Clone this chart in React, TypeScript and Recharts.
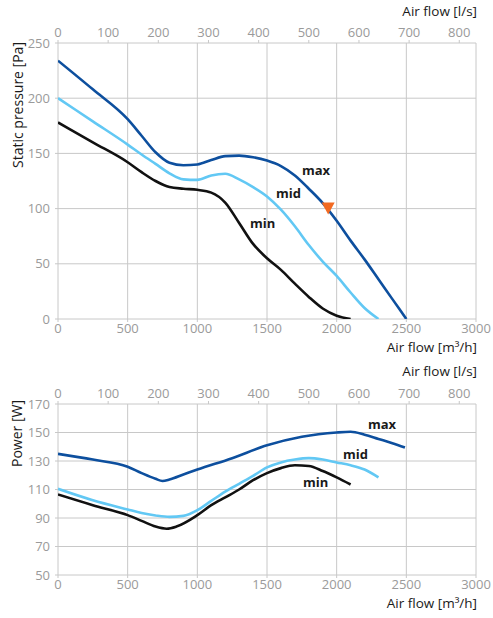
import {
  CartesianGrid,
  Line,
  LineChart,
  ReferenceDot,
  XAxis,
  YAxis,
} from "recharts";

// axis ticks
const flowTicks = [0, 500, 1000, 1500, 2000, 2500, 3000];
const litreTicks = [0, 100, 200, 300, 400, 500, 600, 700, 800];
const pressureTicks = [0, 50, 100, 150, 200, 250];
const powerTicks = [50, 70, 90, 110, 130, 150, 170];

// static pressure curves [m3/h] -> [Pa]
const maxPressureFlow = [0, 250, 500, 600, 700, 800, 900, 1000, 1100, 1200, 1300, 1400, 1500, 1600, 1700, 1800, 1900, 2000, 2100, 2200, 2300, 2400, 2500];
const maxPressure = [234, 208, 181, 166, 151, 141.5, 139.3, 140, 144, 147.5, 148, 146.5, 143.5, 138.5, 130, 118, 105, 89, 71, 54, 36, 18, 0];

const midPressureFlow = [0, 250, 500, 600, 700, 800, 900, 1000, 1100, 1200, 1300, 1400, 1500, 1600, 1700, 1800, 1900, 2000, 2100, 2200, 2300];
const midPressure = [200, 179, 158, 149, 140.5, 132, 126.5, 126, 130, 131.5, 126.5, 119.5, 111, 99, 84, 67, 52, 39, 24, 10, 0];

const minPressureFlow = [0, 250, 500, 600, 700, 800, 900, 1000, 1100, 1200, 1300, 1400, 1500, 1600, 1700, 1800, 1900, 2000, 2100];
const minPressure = [178, 160, 142, 133, 125, 119.5, 118, 117, 114.5, 105.5, 87, 68, 55, 44.5, 32, 20, 9.5, 3, 0];

// power curves [m3/h] -> [W]
const maxPowerFlow = [0, 250, 500, 600, 700, 750, 800, 900, 1000, 1250, 1500, 1750, 2000, 2100, 2200, 2300, 2400, 2490];
const maxPower = [135, 131, 126, 121.5, 117.5, 116, 117, 120.5, 124, 132, 141, 147, 150, 150.5, 148.5, 145.5, 142.5, 139.5];

const midPowerFlow = [0, 250, 500, 600, 700, 800, 900, 1000, 1100, 1200, 1300, 1400, 1500, 1600, 1700, 1800, 1900, 2000, 2100, 2200, 2300];
const midPower = [110.5, 102.5, 96, 93.5, 91.8, 90.8, 91.5, 95.5, 102, 108.5, 114, 119.5, 125.5, 129, 131, 132, 131, 129, 127, 124, 118.5];

const minPowerFlow = [0, 250, 500, 600, 700, 780, 850, 1000, 1100, 1200, 1300, 1400, 1500, 1600, 1700, 1800, 1900, 2000, 2100];
const minPower = [106.5, 99, 92, 88, 84, 82.5, 84, 92, 99, 104.5, 110, 116.5, 121.5, 125, 127, 126.5, 123, 118.5, 113.5];

// working point
const markerFlow = 1939;
const markerPressure = 100;

const toPoints = (q: number[], v: number[]) =>
  q.map((x, i) => ({ q: x, v: v[i] }));

// empty series so the secondary l/s axis gets drawn
const litrePoints = litreTicks.map((l) => ({ q: l, v: null }));

const FONT = "'Open Sans', 'Noto Sans', sans-serif";
const GRID = "#c8c8c8";
const TICK = { fill: "#9a9a9a", fontSize: 13, fontFamily: FONT };
const MAX = "#0d4f9e";
const MID = "#62c8f4";
const MIN = "#111111";

const text = (
  s: string,
  pos: React.CSSProperties,
  extra: React.CSSProperties = {}
) => (
  <div
    style={{
      position: "absolute",
      ...pos,
      fontFamily: FONT,
      fontSize: 13.5,
      color: "#1a1a1a",
      whiteSpace: "nowrap",
      lineHeight: 1,
      ...extra,
    }}
  >
    {s}
  </div>
);

const Triangle = (props: any) => {
  const { cx, cy } = props;
  return (
    <polygon
      points={`${cx - 6.5},${cy - 6} ${cx + 6.5},${cy - 6} ${cx},${cy + 6}`}
      fill="#f26a22"
    />
  );
};

export default function App() {
  const top = [
    { d: toPoints(maxPressureFlow, maxPressure), c: MAX },
    { d: toPoints(midPressureFlow, midPressure), c: MID },
    { d: toPoints(minPressureFlow, minPressure), c: MIN },
  ];
  const bottom = [
    { d: toPoints(maxPowerFlow, maxPower), c: MAX },
    { d: toPoints(midPowerFlow, midPower), c: MID },
    { d: toPoints(minPowerFlow, minPower), c: MIN },
  ];

  const axes = (yTicks: number[]) => [
    <XAxis
      key="m3"
      xAxisId="m3"
      dataKey="q"
      type="number"
      domain={[0, 3000]}
      ticks={flowTicks}
      interval={0}
      height={20}
      axisLine={false}
      tickLine={{ stroke: GRID }}
      tickSize={3}
      tickMargin={2}
      tick={TICK}
      allowDataOverflow
    />,
    <XAxis
      key="ls"
      xAxisId="ls"
      dataKey="q"
      orientation="top"
      type="number"
      domain={[0, 3000 / 3.6]}
      ticks={litreTicks}
      interval={0}
      height={30}
      axisLine={false}
      tickLine={{ stroke: GRID }}
      tickSize={3}
      tickMargin={3}
      tick={TICK}
      allowDataOverflow
    />,
    <YAxis
      key="y"
      yAxisId="y"
      type="number"
      domain={[yTicks[0], yTicks[yTicks.length - 1]]}
      ticks={yTicks}
      interval={0}
      width={50}
      axisLine={false}
      tickLine={{ stroke: GRID }}
      tickSize={3}
      tickMargin={5}
      tick={TICK}
      allowDataOverflow
    />,
    <CartesianGrid key="g" xAxisId="m3" yAxisId="y" stroke={GRID} />,
    <Line
      key="ls-line"
      xAxisId="ls"
      yAxisId="y"
      data={litrePoints}
      dataKey="v"
      stroke="none"
      dot={false}
      activeDot={false}
      isAnimationActive={false}
    />,
  ];

  const lines = (series: { d: { q: number; v: number }[]; c: string }[]) =>
    series.map((s, i) => (
      <Line
        key={i}
        xAxisId="m3"
        yAxisId="y"
        data={s.d}
        dataKey="v"
        type="monotone"
        stroke={s.c}
        strokeWidth={2.6}
        dot={false}
        activeDot={false}
        isAnimationActive={false}
      />
    ));

  const bold = { fontWeight: 700, fontSize: 13 };
  const rot = { transform: "rotate(-90deg)", transformOrigin: "0 0", fontSize: 14 };

  return (
    <div
      style={{
        position: "absolute",
        left: 0,
        top: 0,
        width: 493,
        height: 618,
        background: "#fff",
        overflow: "hidden",
      }}
    >
      <div style={{ position: "absolute", left: 0, top: 0 }}>
        <LineChart
          width={493}
          height={360}
          margin={{ top: 13, right: 17, left: 8, bottom: 21 }}
        >
          {axes(pressureTicks)}
          {lines(top)}
          <ReferenceDot
            xAxisId="m3"
            yAxisId="y"
            x={markerFlow}
            y={markerPressure}
            shape={Triangle}
          />
        </LineChart>
      </div>
      <div style={{ position: "absolute", left: 0, top: 360 }}>
        <LineChart
          width={493}
          height={258}
          margin={{ top: 14, right: 17, left: 8, bottom: 23 }}
        >
          {axes(powerTicks)}
          {lines(bottom)}
        </LineChart>
      </div>

      {text("Air flow [l/s]", { right: 16, top: 5 })}
      {text("Air flow [m³/h]", { right: 16, top: 340.5 })}
      {text("Air flow [l/s]", { right: 16, top: 364.5 })}
      {text("Air flow [m³/h]", { right: 16, top: 596.5 })}
      {text("Static pressure [Pa]", { left: 10.5, top: 168 }, rot)}
      {text("Power [W]", { left: 10, top: 467 }, rot)}

      {text("max", { left: 302, top: 163.5 }, bold)}
      {text("mid", { left: 276, top: 186.5 }, bold)}
      {text("min", { left: 250, top: 216.5 }, bold)}
      {text("max", { left: 368, top: 418 }, bold)}
      {text("mid", { left: 343, top: 448 }, bold)}
      {text("min", { left: 303, top: 476 }, bold)}
    </div>
  );
}
